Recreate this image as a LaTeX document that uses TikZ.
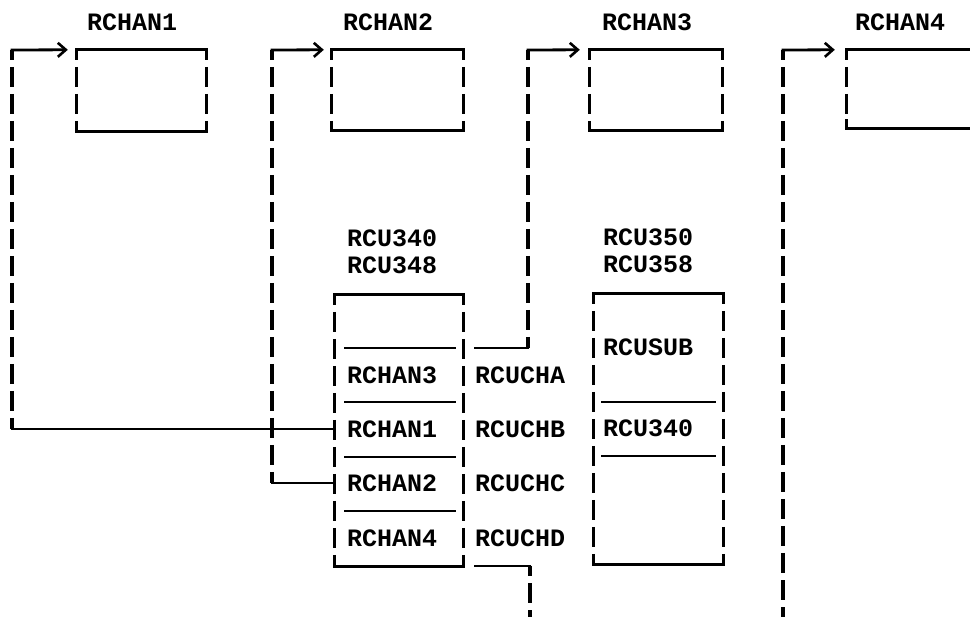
\documentclass[tikz,border=0pt]{standalone}
\usepackage{fontspec}
\setmonofont{Liberation Mono}
\usetikzlibrary{arrows.meta,calc}
\newcommand\tyvert[2]{%
  \draw[vl] (#1) -- (#2);
  \draw[hl,line cap=butt,line width=3.3pt] (#1) -- ($(#1)!9pt!(#2)$);
  \draw[hl,line cap=butt,line width=3.3pt] (#2) -- ($(#2)!9pt!(#1)$);}
\newcommand\tybox[1]{%
  \draw[hl] (#1.north west) -- (#1.north east);
  \draw[hl] (#1.south west) -- (#1.south east);
  \tyvert{#1.north west}{#1.south west}
  \tyvert{#1.north east}{#1.south east}}
\begin{document}
\begin{tikzpicture}[x=1pt,y=-1pt,
  hl/.style={line width=2.8pt,line cap=rect},
  vl/.style={line width=3.3pt,dash pattern=on 20pt off 7pt,dash phase=10pt},
  arr/.style={hl,-{Straight Barb[length=8pt,width=14pt,line width=2.6pt]}},
  lbl/.style={font=\ttfamily\bfseries\fontsize{25}{25}\selectfont,inner sep=0pt,anchor=west},
  tyb/.style 2 args={draw=none,inner sep=0pt,minimum width=#1,minimum height=#2}]
\clip (0,0) rectangle (970,617);
% top boxes
\node[tyb={129pt}{81pt}] (b1) at (141.5,90.5) {};
\node[tyb={131pt}{80pt}] (b2) at (397.5,90) {};
\node[tyb={132pt}{80pt}] (b3) at (656,90) {};
\node[tyb={143pt}{78pt}] (b4) at (918.5,89) {};
\tybox{b1}\tybox{b2}\tybox{b3}\tybox{b4}
\node[lbl] (t1) at (87,22) {RCHAN1};
\node[lbl] (t2) at (343,22) {RCHAN2};
\node[lbl] (t3) at (602,22) {RCHAN3};
\node[lbl] (t4) at (855,22) {RCHAN4};
% RCU340 box
\node[tyb={128pt}{271pt}] (u1) at (399,430.5) {};
\tybox{u1}
\node[lbl] (u1a) at (347,238) {RCU340};
\node[lbl] (u1b) at (347,265) {RCU348};
\foreach \yy in {348,402,457,511} \draw[hl] (345,\yy) -- (455,\yy);
\node[lbl] (r3) at (347,375) {RCHAN3};
\node[lbl] (r1) at (347,429) {RCHAN1};
\node[lbl] (r2) at (347,483) {RCHAN2};
\node[lbl] (r4) at (347,538) {RCHAN4};
\node[lbl] (ca) at (475,375) {RCUCHA};
\node[lbl] (cb) at (475,429) {RCUCHB};
\node[lbl] (cc) at (475,483) {RCUCHC};
\node[lbl] (cd) at (475,538) {RCUCHD};
% RCU350 box
\node[tyb={129pt}{270pt}] (u2) at (658.5,429) {};
\tybox{u2}
\node[lbl] (u2a) at (603,237) {RCU350};
\node[lbl] (u2b) at (603,264) {RCU358};
\foreach \yy in {402,456} \draw[hl] (602,\yy) -- (715,\yy);
\node[lbl] (s1) at (603,347) {RCUSUB};
\node[lbl] (s2) at (603,428) {RCU340};
% connector to RCHAN1
\coordinate (k1a) at (12,429);
\coordinate (k1b) at (12,50);
\draw[hl] (r1 -| u1.west) -- (k1a);
\tyvert{k1b}{k1a}
\draw[arr] (k1b) -- ($(b1.north west)+(-9,0)$);
% connector to RCHAN2
\coordinate (k2a) at (272,483);
\coordinate (k2b) at (272,50);
\draw[hl] (r2 -| u1.west) -- (k2a);
\tyvert{k2b}{k2a}
\draw[arr] (k2b) -- ($(b2.north west)+(-8,0)$);
% connector to RCHAN3
\coordinate (k3s) at (475,348);
\coordinate (k3a) at (528,348);
\coordinate (k3b) at (528,50);
\draw[hl] (k3s) -- (k3a);
\tyvert{k3b}{k3a}
\draw[arr] (k3b) -- ($(b3.north west)+(-10,0)$);
% connector from RCUCHD
\coordinate (k5s) at (475,566);
\coordinate (k5a) at (530,566);
\coordinate (k5b) at (530,640);
\draw[hl] (k5s) -- (k5a);
\tyvert{k5a}{k5b}
% connector to RCHAN4
\coordinate (k4a) at (783,640);
\coordinate (k4b) at (783,50);
\tyvert{k4b}{k4a}
\draw[arr] (k4b) -- ($(b4.north west)+(-12,0)$);
\end{tikzpicture}
\end{document}
